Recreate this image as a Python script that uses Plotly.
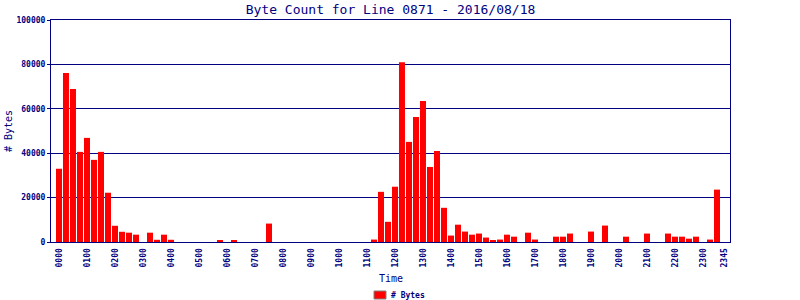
import plotly.graph_objects as go

# 15-minute time slots for the day
times = [f"{h:02d}{m:02d}" for h in range(24) for m in (0, 15, 30, 45)]

byte_counts = [
    33000, 76100, 68900, 40600, 46900, 37000, 40600, 22200,   # 0000-0145
    7300, 4600, 4200, 3300, 0, 4200, 1000, 3300,              # 0200-0345
    1000, 0, 0, 0, 0, 0, 0, 500,                              # 0400-0545
    0, 500, 0, 0, 0, 0, 8300, 0,                              # 0600-0745
    0, 0, 0, 0, 0, 0, 0, 0,                                   # 0800-0945
    0, 0, 0, 0, 0, 1100, 22600, 9100,                         # 1000-1145
    24900, 81000, 45100, 56300, 63500, 33800, 41000, 15400,   # 1200-1345
    2900, 7800, 4700, 3300, 3800, 2000, 600, 1100,            # 1400-1545
    3300, 2400, 0, 4200, 1100, 0, 0, 2400,                    # 1600-1745
    2400, 3800, 0, 0, 4700, 0, 7400, 0,                       # 1800-1945
    0, 2400, 0, 0, 3800, 0, 0, 3800,                          # 2000-2145
    2400, 2400, 1500, 2400, 0, 1100, 23600, 0,                # 2200-2345
]

tick_labels = [f"{h:02d}00" for h in range(24)] + ["2345"]
y_ticks = [0, 20000, 40000, 60000, 80000, 100000]

title_text = "Byte Count for Line 0871 - 2016/08/18"
series_name = "# Bytes"

NAVY = "#000080"
FONT = "DejaVu Sans Mono"

fig = go.Figure()
fig.add_trace(go.Bar(
    x=times, y=byte_counts, name=series_name,
    marker=dict(color="#FF0000", line=dict(width=0)),
    showlegend=False,
))

fig.update_layout(
    width=800, height=300, autosize=False,
    margin=dict(l=51, r=70, t=20, b=58, pad=0),
    paper_bgcolor="white", plot_bgcolor="white",
    bargap=1/7,
    title=dict(text=title_text, x=0.5, xref="paper", xanchor="center",
               y=1 - 9/300, yref="container", yanchor="middle",
               font=dict(family=FONT, size=13, color=NAVY)),
    xaxis=dict(
        type="category", range=[-1.14, 95.86],
        tickmode="array", tickvals=tick_labels, ticktext=tick_labels,
        tickangle=-90, ticks="", showgrid=False, ticklabelstandoff=2,
        showline=True, linecolor=NAVY, linewidth=1, mirror=True,
        tickfont=dict(family=FONT, size=8, color=NAVY, weight="bold"),
        fixedrange=True,
    ),
    yaxis=dict(
        range=[0, 100000], tickmode="array", tickvals=y_ticks,
        tickformat="d", ticks="outside", ticklen=3, tickcolor=NAVY,
        showgrid=True, gridcolor=NAVY, gridwidth=1, zeroline=False,
        showline=True, linecolor=NAVY, linewidth=1, mirror=True,
        tickfont=dict(family=FONT, size=8, color=NAVY, weight="bold"),
        fixedrange=True,
    ),
    annotations=[
        dict(text="Time", xref="paper", yref="paper", x=0.5, y=-36/222,
             xanchor="center", yanchor="middle", showarrow=False,
             font=dict(family=FONT, size=10, color=NAVY)),
        dict(text=series_name, xref="paper", yref="paper", x=-43/679, y=0.5,
             xanchor="center", yanchor="middle", textangle=-90, showarrow=False,
             font=dict(family=FONT, size=10, color=NAVY)),
        dict(text=series_name, xref="paper", yref="paper", x=(389 - 51)/679, y=-53/222,
             xanchor="left", yanchor="middle", showarrow=False,
             font=dict(family=FONT, size=8, color=NAVY, weight="bold")),
    ],
    shapes=[
        dict(type="rect", xref="paper", yref="paper",
             x0=(374 - 51)/679, x1=(386 - 51)/679,
             y0=-49/222, y1=-57/222,
             fillcolor="#FF0000", line=dict(color="#808080", width=1)),
    ],
)

fig.write_html("out.html")
